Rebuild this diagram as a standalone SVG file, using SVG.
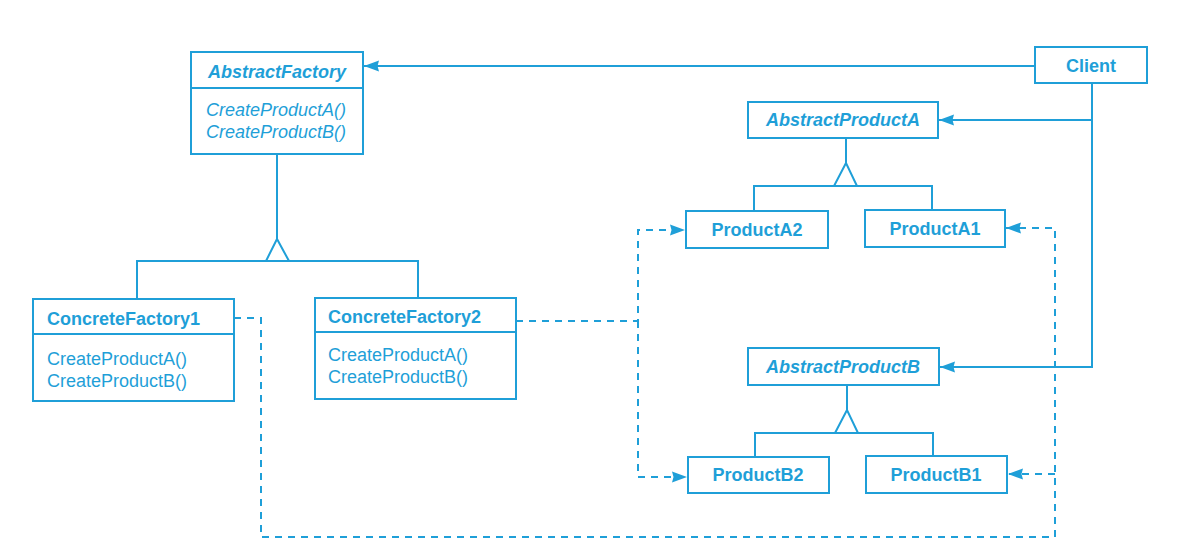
<svg xmlns="http://www.w3.org/2000/svg" width="1183" height="552" viewBox="0 0 1183 552">
<defs>
<style>
.box{fill:#ffffff;stroke:#1f9fd8;stroke-width:2}
.ln{fill:none;stroke:#1f9fd8;stroke-width:2}
.dash{fill:none;stroke:#1f9fd8;stroke-width:2;stroke-dasharray:7 6}
.tri{fill:#ffffff;stroke:#1f9fd8;stroke-width:2;stroke-linejoin:miter}
text{font-family:"Liberation Sans",Arial,sans-serif;font-size:18px;fill:#1f9fd8}
.t{font-weight:bold}
.ti{font-weight:bold;font-style:italic}
.mi{font-style:italic}
</style>
<marker id="arr" markerUnits="userSpaceOnUse" markerWidth="16" markerHeight="12" refX="15" refY="6" orient="auto">
<path d="M0,0.5 L15,6 L0,11.5 L1.5,6 Z" fill="#1f9fd8"/>
</marker>
</defs>
<rect width="1183" height="552" fill="#ffffff"/>

<g id="connectors">
<!-- Client to AbstractFactory -->
<path class="ln" d="M1035,66 L364,66" marker-end="url(#arr)"/>
<!-- Client to AbstractProductA / B -->
<path class="ln" d="M1092,83 L1092,367 L940,367" marker-end="url(#arr)"/>
<path class="ln" d="M1092,120 L939,120" marker-end="url(#arr)"/>
<!-- AbstractFactory inheritance -->
<path class="ln" d="M277,154 L277,239"/>
<path class="ln" d="M137,299 L137,261 L418,261 L418,298"/>
<path class="tri" d="M277,239 L266,261 L289,261 Z"/>
<!-- AbstractProductA inheritance -->
<path class="ln" d="M846,138 L846,163"/>
<path class="ln" d="M754,211 L754,186 L932,186 L932,210"/>
<path class="tri" d="M846,163 L834,186 L857,186 Z"/>
<!-- AbstractProductB inheritance -->
<path class="ln" d="M847,385 L847,410"/>
<path class="ln" d="M755,457 L755,433 L933,433 L933,456"/>
<path class="tri" d="M847,410 L835,433 L858,433 Z"/>
<!-- ConcreteFactory1 dependencies -->
<path class="dash" d="M234,318 L261,318 L261,537 L1055,537 L1055,228 L1006,228" marker-end="url(#arr)"/>
<path class="dash" d="M1055,474 L1008,474" marker-end="url(#arr)"/>
<!-- ConcreteFactory2 dependencies -->
<path class="dash" d="M516,321 L638,321 L638,230 L685,230" marker-end="url(#arr)"/>
<path class="dash" d="M638,321 L638,477 L687,477" marker-end="url(#arr)"/>
</g>

<g id="AbstractFactory">
<rect class="box" x="191" y="52" width="172" height="102"/>
<line class="ln" x1="191" y1="88" x2="363" y2="88"/>
<text class="ti" x="277" y="78" text-anchor="middle">AbstractFactory</text>
<text class="mi" x="206" y="116">CreateProductA()</text>
<text class="mi" x="206" y="138">CreateProductB()</text>
</g>

<g id="Client">
<rect class="box" x="1035" y="47" width="112" height="36"/>
<text class="t" x="1091" y="72" text-anchor="middle">Client</text>
</g>

<g id="ConcreteFactory1">
<rect class="box" x="33" y="299" width="201" height="102"/>
<line class="ln" x1="33" y1="334" x2="234" y2="334"/>
<text class="t" x="47" y="325">ConcreteFactory1</text>
<text x="47" y="365">CreateProductA()</text>
<text x="47" y="387">CreateProductB()</text>
</g>

<g id="ConcreteFactory2">
<rect class="box" x="315" y="298" width="201" height="101"/>
<line class="ln" x1="315" y1="332" x2="516" y2="332"/>
<text class="t" x="328" y="323">ConcreteFactory2</text>
<text x="328" y="361">CreateProductA()</text>
<text x="328" y="383">CreateProductB()</text>
</g>

<g id="AbstractProductA">
<rect class="box" x="748" y="102" width="190" height="36"/>
<text class="ti" x="843" y="126" text-anchor="middle">AbstractProductA</text>
</g>

<g id="ProductA2">
<rect class="box" x="686" y="211" width="142" height="37"/>
<text class="t" x="757" y="236" text-anchor="middle">ProductA2</text>
</g>

<g id="ProductA1">
<rect class="box" x="865" y="210" width="140" height="37"/>
<text class="t" x="935" y="235" text-anchor="middle">ProductA1</text>
</g>

<g id="AbstractProductB">
<rect class="box" x="748" y="348" width="191" height="37"/>
<text class="ti" x="843" y="373" text-anchor="middle">AbstractProductB</text>
</g>

<g id="ProductB2">
<rect class="box" x="688" y="457" width="141" height="36"/>
<text class="t" x="758" y="481" text-anchor="middle">ProductB2</text>
</g>

<g id="ProductB1">
<rect class="box" x="866" y="456" width="141" height="37"/>
<text class="t" x="936" y="481" text-anchor="middle">ProductB1</text>
</g>
</svg>
